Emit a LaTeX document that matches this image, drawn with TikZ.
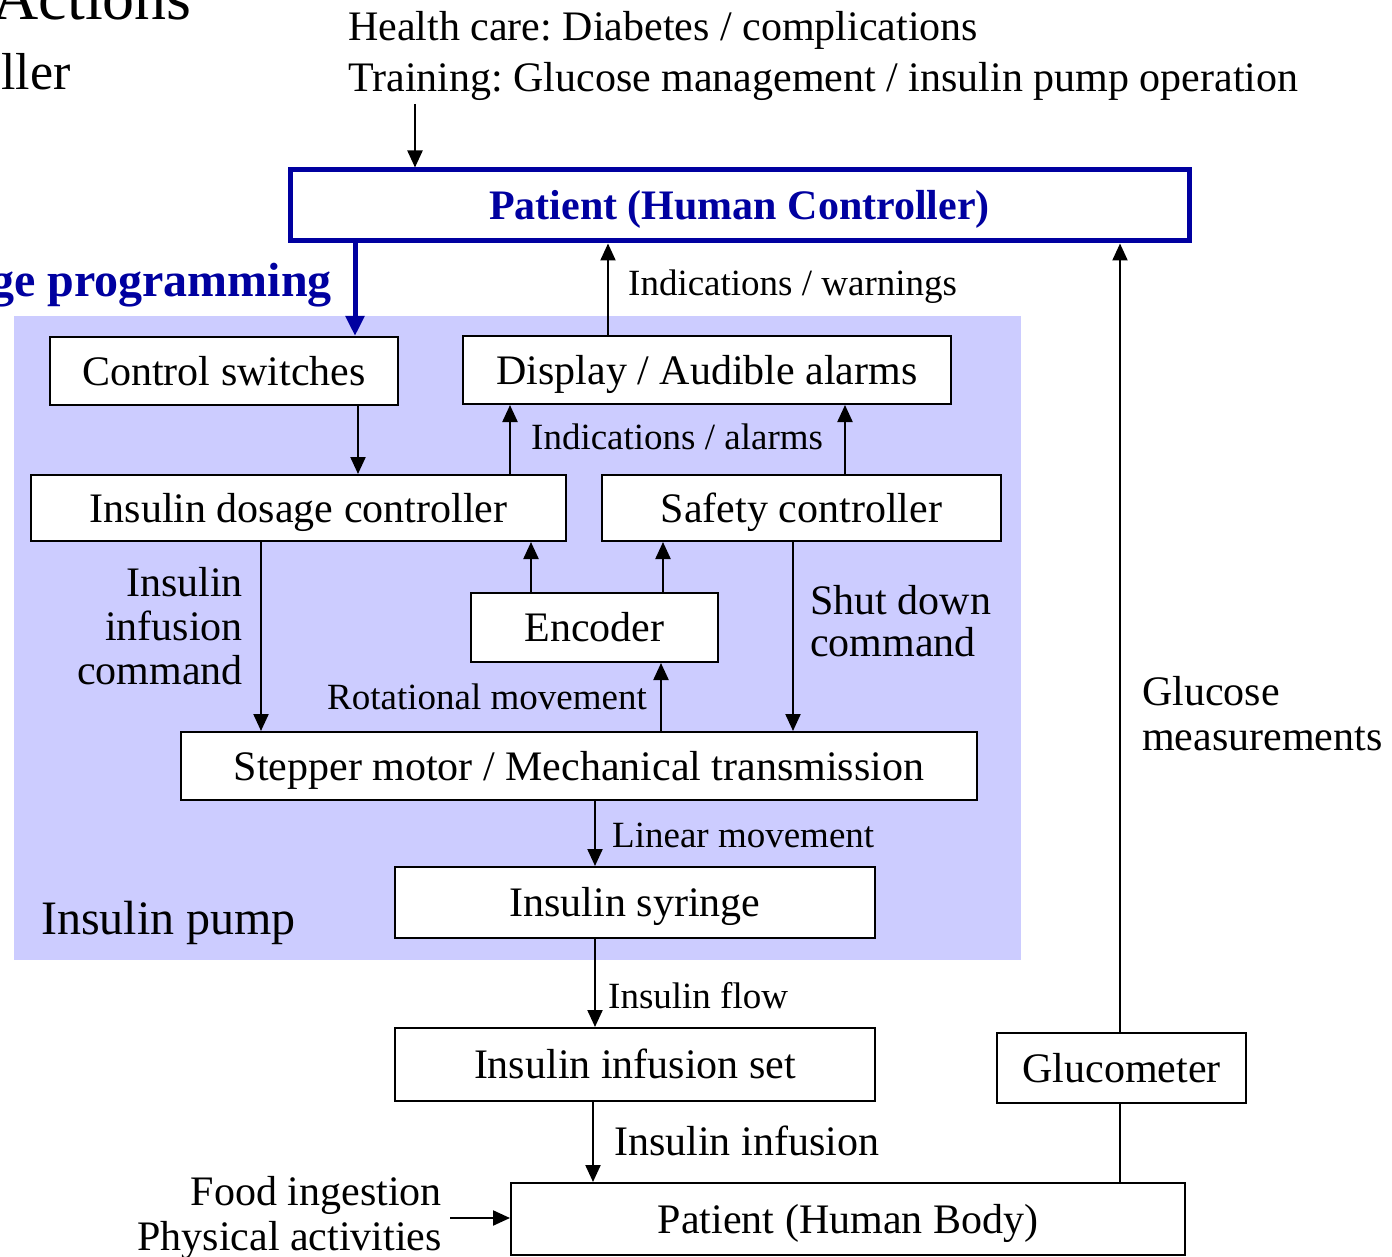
\documentclass[tikz,border=0pt]{standalone}
\usepackage{fontspec}
\setmainfont{Liberation Serif}
\usetikzlibrary{arrows.meta}
\definecolor{cB}{HTML}{0000A0}
\definecolor{cP}{HTML}{CCCCFF}
\frenchspacing
\tikzset{
  box/.style={draw=black,fill=white,line width=2pt,inner sep=0pt,text height=28pt,text depth=0pt,font=\fontsize{42}{44}\selectfont},
  txt/.style={inner sep=0pt,font=\fontsize{42}{44}\selectfont},
  lbl/.style={inner sep=0pt,font=\fontsize{37}{40}\selectfont},
  arr/.style={-{Triangle[length=17pt,width=15pt]},line width=2.2pt},
  barr/.style={-{Triangle[length=20pt,width=18pt]},line width=5pt,cB},
}
\begin{document}
\begin{tikzpicture}[x=1pt,y=-1pt]
\useasboundingbox (0,0) rectangle (1392,1257);
\clip (0,0) rectangle (1392,1257);
% --- pump region ---
\node[fill=cP,inner sep=0pt,minimum width=1007,minimum height=644] (pump) at (517.5,638) {};
\node[anchor=west,inner sep=0pt,font=\fontsize{48}{50}\selectfont] (pumplbl) at (41,923) {Insulin pump};
% --- cut-off titles ---
\node[anchor=base east,inner sep=0pt,font=\fontsize{64}{66}\selectfont] (act) at (192,20) {Actions};
\node[anchor=base east,inner sep=0pt,font=\fontsize{52}{54}\selectfont] (ller) at (71,90) {ller};
\node[anchor=east,inner sep=0pt,font=\fontsize{48}{50}\selectfont\bfseries,text=cB] (prog) at (332,285) {ge programming};
% --- boxes ---
\node[box,draw=cB,line width=5pt,text=cB,font=\fontsize{42}{44}\selectfont\bfseries,minimum width=899,minimum height=71] (hc) at (739.5,205.5) {Patient (Human Controller)};
\node[box,minimum width=348,minimum height=68] (cs) at (224,371) {Control switches};
\node[box,minimum width=488,minimum height=68] (disp) at (707,370) {Display / Audible alarms};
\node[box,minimum width=535,minimum height=66] (dose) at (298.5,508) {Insulin dosage controller};
\node[box,minimum width=399,minimum height=66] (safe) at (801.5,508) {Safety controller};
\node[box,minimum width=247,minimum height=69] (enc) at (594.5,627.5) {Encoder};
\node[box,minimum width=796,minimum height=68] (step) at (579,766) {Stepper motor / Mechanical transmission};
\node[box,minimum width=480,minimum height=71] (syr) at (635,902.5) {Insulin syringe};
\node[box,minimum width=480,minimum height=73] (ifs) at (635,1064.5) {Insulin infusion set};
\node[box,minimum width=249,minimum height=70] (gm) at (1121.5,1068) {Glucometer};
\node[box,minimum width=674,minimum height=72] (hb) at (848,1219) {Patient (Human Body)};
% --- labels ---
\node[txt,anchor=west] (hcare) at (348,30) {Health care: Diabetes / complications};
\node[txt,anchor=west] (train) at (348,81) {Training: Glucose management / insulin pump operation};
\node[lbl,anchor=west] (warn) at (628,287) {Indications / warnings};
\node[lbl,anchor=west] (alarm) at (531,437) {Indications / alarms};
\node[txt,anchor=east,align=right] (cmd) at (243,626) {Insulin\\infusion\\command};
\node[txt,anchor=west,align=left,font=\fontsize{42}{42}\selectfont] (shut) at (810,621) {Shut down\\command};
\node[lbl,anchor=east] (rot) at (647,697) {Rotational movement};
\node[lbl,anchor=west] (lin) at (612,835) {Linear movement};
\node[lbl,anchor=west] (flow) at (608,996) {Insulin flow};
\node[txt,anchor=west] (inf) at (614,1141) {Insulin infusion};
\node[txt,anchor=west,align=left,font=\fontsize{42}{45}\selectfont] (glu) at (1142,714) {Glucose\\measurements};
\node[txt,anchor=east,align=right,inner xsep=8pt,font=\fontsize{42}{45}\selectfont] (food) at (450,1218) {Food ingestion\\Physical activities};
% --- connector columns ---
\coordinate (topin) at (415,104);
\coordinate (xProg) at (355,0);
\coordinate (xWarn) at (608,0);
\coordinate (xGlu) at (1120,0);
\coordinate (xCs) at (358,0);
\coordinate (xIa) at (510,0);
\coordinate (xIb) at (845,0);
\coordinate (xEa) at (531,0);
\coordinate (xEb) at (663,0);
\coordinate (xRot) at (661,0);
\coordinate (xCmd) at (261,0);
\coordinate (xShut) at (793,0);
\coordinate (xLin) at (595,0);
\coordinate (xInf) at (593,0);
% --- connectors ---
\draw[arr] (topin) -- (topin |- hc.north);
\draw[barr] (hc.south -| xProg) -- (cs.north -| xProg);
\draw[arr] (disp.north -| xWarn) -- (hc.south -| xWarn);
\draw[arr] (gm.north -| xGlu) -- (hc.south -| xGlu);
\draw[line width=2.2pt] (gm.south -| xGlu) -- (hb.north -| xGlu);
\draw[arr] (cs.south -| xCs) -- (dose.north -| xCs);
\draw[arr] (dose.north -| xIa) -- (disp.south -| xIa);
\draw[arr] (safe.north -| xIb) -- (disp.south -| xIb);
\draw[arr] (enc.north -| xEa) -- (dose.south -| xEa);
\draw[arr] (enc.north -| xEb) -- (safe.south -| xEb);
\draw[arr] (step.north -| xRot) -- (enc.south -| xRot);
\draw[arr] (dose.south -| xCmd) -- (step.north -| xCmd);
\draw[arr] (safe.south -| xShut) -- (step.north -| xShut);
\draw[arr] (step.south -| xLin) -- (syr.north -| xLin);
\draw[arr] (syr.south -| xLin) -- (ifs.north -| xLin);
\draw[arr] (ifs.south -| xInf) -- (hb.north -| xInf);
\draw[arr] (food.east) -- (food.east -| hb.west);
\end{tikzpicture}
\end{document}
